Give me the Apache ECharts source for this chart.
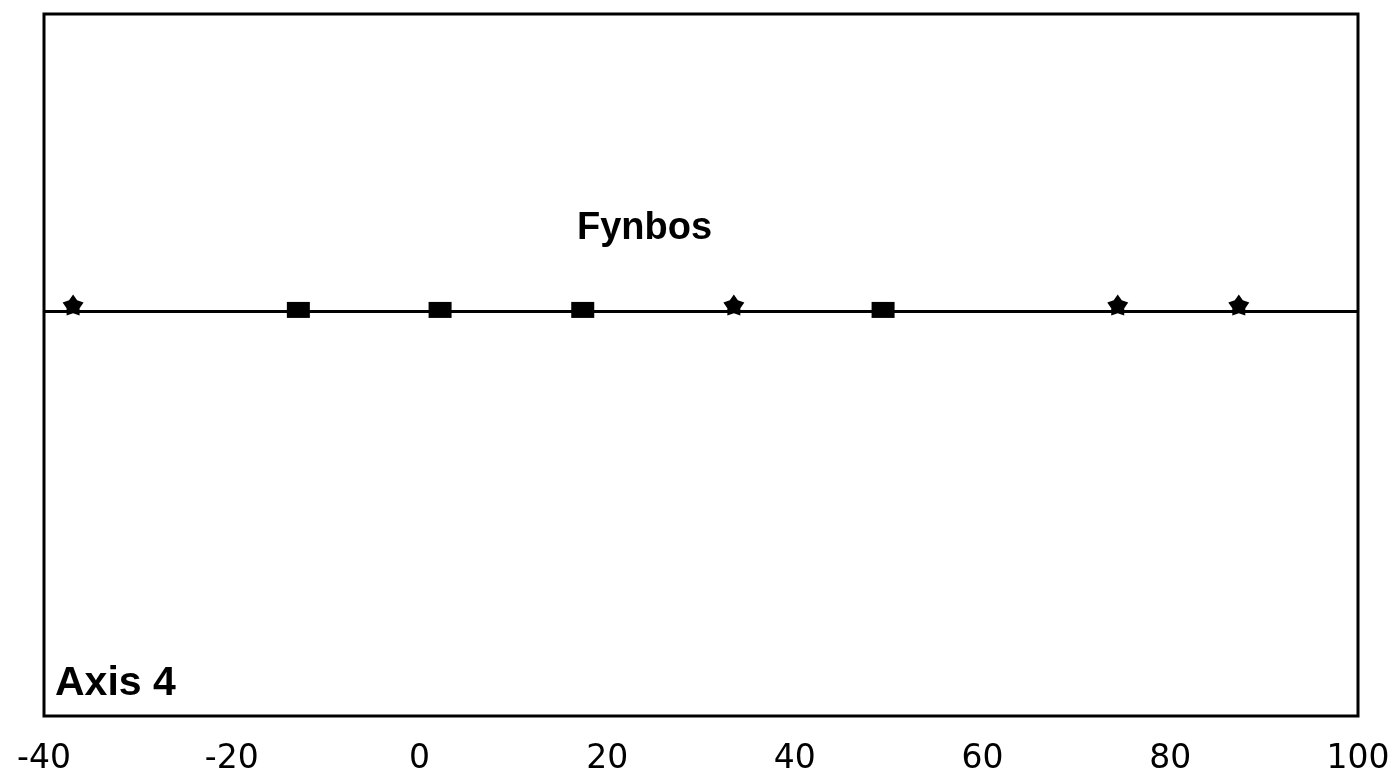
<!DOCTYPE html>
<html>
<head>
<meta charset="utf-8">
<script src="https://cdn.jsdelivr.net/npm/echarts@6/dist/echarts.min.js"></script>
<style>html,body{margin:0;padding:0;background:#fff}#c{width:1391px;height:772px}</style>
</head>
<body>
<div id="c"></div>
<script>
// Sample scores along axis 4 (Fynbos group)
const starScores = [-36.9, 33.5, 74.4, 87.3];
const squareScores = [-12.9, 2.2, 17.4, 49.4];
const xTicks = [-40, -20, 0, 20, 40, 60, 80, 100];
const groupLabel = 'Fynbos';
const axisTitle = 'Axis 4';

function starPath(n, ro, ri) {
  let d = '';
  for (let i = 0; i < n * 2; i++) {
    const r = i % 2 === 0 ? ro : ri;
    const a = -Math.PI / 2 + i * Math.PI / n;
    d += (i === 0 ? 'M' : 'L') + (r * Math.cos(a)).toFixed(2) + ' ' + (r * Math.sin(a)).toFixed(2) + ' ';
  }
  return 'path://' + d + 'Z';
}

const chart = echarts.init(document.getElementById('c'), null, {renderer: 'canvas'});
chart.setOption({
  animation: false,
  backgroundColor: '#fff',
  title: [
    {text: groupLabel, left: 572, top: 205,
     textStyle: {fontFamily: 'Liberation Sans', fontWeight: 'bold', fontSize: 38, color: '#000'}},
    {text: axisTitle, left: 50, top: 658,
     textStyle: {fontFamily: 'Liberation Sans', fontWeight: 'bold', fontSize: 41, color: '#000'}}
  ],
  grid: {left: 44, right: 33, top: 14, bottom: 56, containLabel: false, outerBoundsMode: 'none',
    show: true, borderColor: '#000', borderWidth: 3, backgroundColor: 'transparent'},
  xAxis: {
    type: 'value', min: xTicks[0], max: xTicks[xTicks.length - 1], interval: 20,
    axisLine: {show: false}, axisTick: {show: false}, splitLine: {show: false},
    axisLabel: {show: true, showMinLabel: true, showMaxLabel: true, margin: 27,
      fontFamily: 'DejaVu Sans', fontSize: 33, color: '#000',
      formatter: v => xTicks.includes(v) ? String(v) : ''}
  },
  yAxis: {
    type: 'value', min: -1, max: 0.733, show: false,
    axisLine: {show: false}, splitLine: {show: false}
  },
  series: [
    {
      type: 'scatter', name: 'squares',
      data: squareScores.map(x => [x, 0]),
      symbol: 'rect', symbolSize: [23, 16], symbolOffset: [0, -1],
      itemStyle: {color: '#000', opacity: 1}, z: 3,
      markLine: {
        silent: true, symbol: 'none', label: {show: false},
        lineStyle: {color: '#000', width: 3, type: 'solid', opacity: 1},
        data: [{yAxis: 0}]
      }
    },
    {
      type: 'scatter', name: 'stars',
      data: starScores.map(x => [x, 0]),
      symbol: starPath(5, 10, 6.2), symbolSize: 21, symbolOffset: [0, -6],
      itemStyle: {color: '#000', opacity: 1}, z: 3
    }
  ]
});
</script>
</body>
</html>
